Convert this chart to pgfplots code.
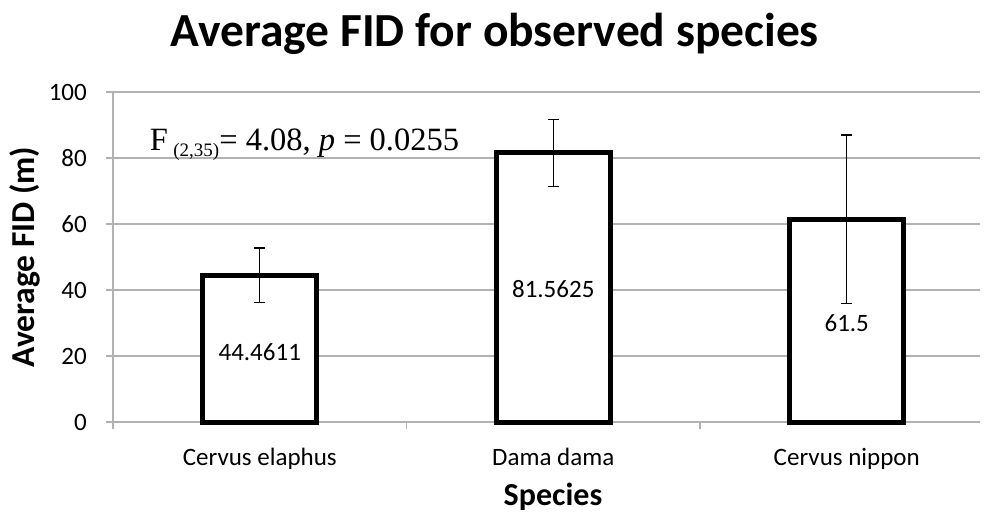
\documentclass[border=0pt]{standalone}
\usepackage{pgfplots}
\pgfplotsset{compat=1.18}
\usepackage{fontspec}
\setmainfont{Carlito}
\newfontfamily\timesfont{Liberation Serif}
\definecolor{gridgray}{RGB}{178,178,178}
\begin{document}
\begin{tikzpicture}
\path[use as bounding box] (-113pt,-93pt) rectangle (871pt,422pt);
\begin{axis}[
  scale only axis,
  width=867pt, height=330pt,
  at={(0pt,0pt)}, anchor=south west,
  xmin=-0.5, xmax=2.454,
  ymin=0, ymax=100,
  ytick={0,20,40,60,80,100},
  xtick={-0.5,0.5,1.5},
  xticklabels={},
  extra x ticks={0,1,2},
  extra x tick labels={Cervus elaphus, Dama dama, Cervus nippon},
  extra x tick style={major tick length=0pt, grid=none,
    xticklabel style={anchor=base, inner sep=0pt, yshift=-43pt}},
  axis lines*=left,
  axis line style={gridgray, line width=1.5pt},
  tick style={gridgray, line width=1.5pt},
  major tick length=7pt,
  tick align=outside,
  ymajorgrids,
  grid style={gridgray, line width=1.5pt},
  clip=false,
  /pgf/number format/assume math mode=true,
  ticklabel style={font=\fontsize{25}{25}\selectfont, black},
  yticklabel style={anchor=east, inner sep=0pt, xshift=-19pt},
  title={Average FID for observed species},
  title style={font=\fontsize{47.5}{47.5}\selectfont\bfseries, at={(axis description cs:0.4406,1.121)}, anchor=base, inner sep=0pt},
  xlabel={Species},
  xlabel style={font=\fontsize{32}{32}\selectfont\bfseries, at={(axis description cs:0.5075,-0.2515)}, anchor=base, inner sep=0pt},
  ylabel={Average FID (m)},
  ylabel style={font=\fontsize{33.5}{33.5}\selectfont\bfseries, at={(axis description cs:-0.1015,0.5)}, anchor=center, inner sep=0pt},
]
\addplot[ybar, bar width=0.39, bar shift=0pt, draw=black, fill=white, line width=5pt,
  error bars/.cd, y dir=both, y explicit,
  error bar style={line width=1.3pt, black},
  error mark options={rotate=90, mark size=5.5pt, line width=1.3pt, black}]
  table[x=x, y=y, y error=e] {
x y e
0 44.4611 8.25
1 81.5625 10.1
2 61.5 25.5
};
\node[font=\fontsize{25}{25}\selectfont] at (axis cs:0,21.3) {44.4611};
\node[font=\fontsize{25}{25}\selectfont] at (axis cs:1,40.2) {81.5625};
\node[font=\fontsize{25}{25}\selectfont] at (axis cs:2,30.1) {61.5};
\node[anchor=base west, inner sep=0pt, font=\timesfont\fontsize{32.5}{32.5}\selectfont] at (axis cs:-0.3749,82.2)
  {F\,{\fontsize{19}{19}\selectfont\raisebox{-6pt}{(2,35)}}= 4.08, \textit{p} = 0.0255};
\end{axis}
\end{tikzpicture}
\end{document}
